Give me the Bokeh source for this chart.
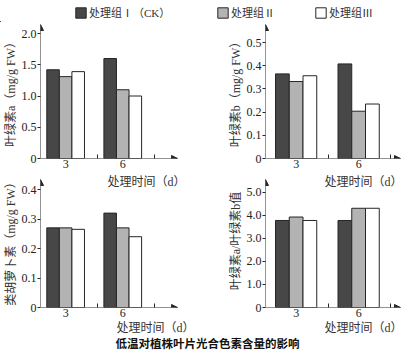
from bokeh.plotting import figure
from bokeh.models import (Range1d, FixedTicker, CustomJSTickFormatter, Label, Arrow,
                          NormalHead, Legend, LegendItem, Title)
from bokeh.layouts import column, row
from bokeh.embed import file_html
from bokeh.resources import INLINE

# ---------------- data ----------------
days = ["3", "6"]
groups = ["处理组Ⅰ（CK）", "处理组Ⅱ", "处理组Ⅲ"]

chl_a_ck = [1.42, 1.60]
chl_a_t2 = [1.31, 1.10]
chl_a_t3 = [1.39, 1.00]

chl_b_ck = [0.365, 0.408]
chl_b_t2 = [0.332, 0.204]
chl_b_t3 = [0.357, 0.235]

car_ck = [0.270, 0.320]
car_t2 = [0.270, 0.270]
car_t3 = [0.265, 0.240]

ratio_ck = [3.78, 3.78]
ratio_t2 = [3.93, 4.31]
ratio_t3 = [3.78, 4.31]

ticks_a = [0, 0.5, 1.0, 1.5, 2.0]
ticks_b = [0, 0.1, 0.2, 0.3, 0.4, 0.5]
ticks_car = [0, 0.1, 0.2, 0.3, 0.4]
ticks_ratio = [0, 1.0, 2.0, 3.0, 4.0, 5.0]

ylabels = ["叶绿素a（mg/g FW）", "叶绿素b（mg/g FW）",
           "类胡萝卜素（mg/g FW）", "叶绿素a/叶绿素b值"]
xlabel = "处理时间（d）"
title_text = "低温对植株叶片光合色素含量的影响"

# ---------------- style ----------------
COLORS = ["#474747", "#b3b3b3", "#ffffff"]
EDGE = "#262626"
SERIF = "Liberation Serif"
CJK = "Liberation Serif, Noto Sans CJK SC"
BAR_W = 0.22

# geometry (px)
LEFT_W, RIGHT_W = 205, 198
LEFT_BL, LEFT_BR = 39, 15          # left frame 151 px wide, x-arrow 138 px
RIGHT_BL, RIGHT_BR = 60, 0         # right frame 138 px wide, x-arrow 135 px
LEFT_PPX, RIGHT_PPX = 57.5, 62.5   # px per x unit
TOP_H, BOT_H = 152, 162
BOT_FH, BOT_ARROW = 133, 128       # lower frames reach above the arrow tip
TOP_TITLE_Y = 126                  # px above the lower axis for upper x titles


def panel(series, y_tip, y_end, yticks, ylabel, width, height, bl, br, bt, bb,
          x_tip, x_end, center):
    p = figure(width=width, height=height, x_range=Range1d(0, x_end),
               y_range=Range1d(0, y_end), output_backend="svg", title=None,
               toolbar_location=None, min_border_left=bl, min_border_right=br,
               min_border_top=bt, min_border_bottom=bb)
    p.outline_line_color = None
    p.grid.visible = False
    for k, vals in enumerate(series):
        xs = [i + center + (k - 1) * BAR_W for i in range(len(days))]
        p.vbar(x=xs, top=vals, width=BAR_W, fill_color=COLORS[k],
               line_color=EDGE, line_width=1)

    xa = p.xaxis[0]
    xa.ticker = FixedTicker(ticks=[i + center for i in range(len(days))],
                            minor_ticks=[i + 1 for i in range(len(days))])
    xa.formatter = CustomJSTickFormatter(args=dict(labels=days),
                                         code="return labels[index]")
    xa.major_tick_in = 0
    xa.major_tick_out = 0
    xa.minor_tick_in = 4
    xa.minor_tick_out = 0
    xa.major_label_standoff = 1
    xa.major_label_text_font = SERIF
    xa.major_label_text_font_size = "12px"
    xa.major_label_text_color = "#222222"
    xa.axis_line_color = None
    xa.minor_tick_line_color = EDGE

    ya = p.yaxis[0]
    ya.ticker = FixedTicker(ticks=yticks, minor_ticks=[])
    ya.formatter = CustomJSTickFormatter(
        code="return tick == 0 ? '0' : tick.toFixed(1)")
    ya.major_tick_in = 0
    ya.major_tick_out = 3
    ya.major_label_standoff = 1
    ya.major_label_text_font = SERIF
    ya.major_label_text_font_size = "12px"
    ya.major_label_text_color = "#222222"
    ya.axis_line_color = None
    ya.major_tick_line_color = EDGE
    ya.axis_label = ylabel
    ya.axis_label_standoff = 1
    ya.axis_label_text_font = CJK
    ya.axis_label_text_font_size = "12px"
    ya.axis_label_text_font_style = "normal"
    ya.axis_label_text_color = "#333333"

    head = dict(size=6, fill_color=EDGE, line_color=EDGE)
    p.add_layout(Arrow(end=NormalHead(**head), x_start=0, y_start=0,
                       x_end=0, y_end=y_tip, line_color=EDGE, line_width=1))
    p.add_layout(Arrow(end=NormalHead(**head), x_start=0, y_start=0,
                       x_end=x_tip, y_end=0, line_color=EDGE, line_width=1))
    return p


def top_title_label(p, x_px, ppx, ppu):
    # x-axis title of the panel above, drawn in the strip above this frame
    p.add_layout(Label(x=x_px / ppx, y=TOP_TITLE_Y / ppu, text=xlabel,
                       text_align="right", text_baseline="middle",
                       text_font=CJK, text_font_size="12px",
                       text_color="#333333"))


def bottom_title(p, offset):
    p.add_layout(Title(text=xlabel, align="right", offset=offset, standoff=0,
                       vertical_align="middle", text_font=CJK,
                       text_font_size="12px", text_font_style="normal",
                       text_color="#333333"), "below")


lx_tip, lx_end = 138 / LEFT_PPX, (LEFT_W - LEFT_BL - LEFT_BR) / LEFT_PPX
rx_tip, rx_end = 135 / RIGHT_PPX, (RIGHT_W - RIGHT_BL - RIGHT_BR) / RIGHT_PPX

p1 = panel([chl_a_ck, chl_a_t2, chl_a_t3], 2.144, 2.144, ticks_a, ylabels[0],
           LEFT_W, TOP_H, LEFT_BL, LEFT_BR, 2, 16, lx_tip, lx_end, 0.44)
p2 = panel([chl_b_ck, chl_b_t2, chl_b_t3], 0.578, 0.578, ticks_b, ylabels[1],
           RIGHT_W, TOP_H, RIGHT_BL, RIGHT_BR, 2, 16, rx_tip, rx_end, 0.49)

car_tip, ratio_tip = 0.434, 5.56
car_ppu, ratio_ppu = BOT_ARROW / car_tip, BOT_ARROW / ratio_tip
p3 = panel([car_ck, car_t2, car_t3], car_tip, BOT_FH / car_ppu, ticks_car,
           ylabels[2], LEFT_W, BOT_H, LEFT_BL, LEFT_BR, 0, 29,
           lx_tip, lx_end, 0.44)
p4 = panel([ratio_ck, ratio_t2, ratio_t3], ratio_tip, BOT_FH / ratio_ppu,
           ticks_ratio, ylabels[3], RIGHT_W, BOT_H, RIGHT_BL, RIGHT_BR, 0, 29,
           rx_tip, rx_end, 0.49)

top_title_label(p3, 146, LEFT_PPX, car_ppu)
top_title_label(p4, 137, RIGHT_PPX, ratio_ppu)
bottom_title(p3, -4)
bottom_title(p4, 1)

# ---------------- legend strip ----------------
leg = figure(width=403, height=22, x_range=Range1d(0, 403), y_range=Range1d(0, 22),
             output_backend="svg", toolbar_location=None, min_border=0,
             title=None, x_axis_location=None, y_axis_location=None)
leg.grid.visible = False
leg.outline_line_color = None
leg_x = [74, 216, 314]
for k in range(3):
    # swatch renderer kept outside the visible range; only its legend glyph shows
    r = leg.vbar(x=[-50], top=[1], width=1, fill_color=COLORS[k], line_color=EDGE)
    lg = Legend(items=[LegendItem(label=groups[k], renderers=[r])],
                location=(leg_x[k], 2), orientation="horizontal",
                glyph_width=13, glyph_height=13, label_height=13,
                label_standoff=2, padding=0, margin=0, spacing=0,
                border_line_color=None, background_fill_alpha=0,
                label_text_font=CJK, label_text_font_size="11px",
                label_text_color="#333333")
    leg.add_layout(lg)

# ---------------- title strip ----------------
tfig = figure(width=403, height=15, x_range=Range1d(0, 403), y_range=Range1d(0, 15),
              output_backend="svg", toolbar_location=None, min_border=0,
              title=None, x_axis_location=None, y_axis_location=None)
tfig.grid.visible = False
tfig.outline_line_color = None
tfig.add_layout(Label(x=207, y=7.5, text=title_text, text_align="center",
                      text_baseline="middle",
                      text_font="Liberation Sans, Noto Sans CJK SC",
                      text_font_style="bold", text_font_size="11.5px",
                      text_color="#111111"))

layout = column(leg, row(p1, p2), row(p3, p4), tfig)

open("out.html", "w").write(file_html(layout, INLINE))
